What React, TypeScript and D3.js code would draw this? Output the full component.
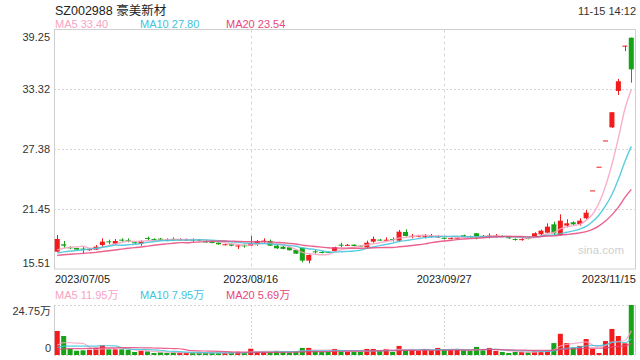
import React from "react";
import * as d3 from "d3";

const title = "SZ002988 豪美新材";
const stamp = "11-15 14:12";

const opens = [
  17.23, 17.96, 17.66, 17.59, 17.53, 17.37, 17.43, 17.89, 18.25, 18.02,
  18.42, 18.36, 18.16, 18.02, 18.59, 18.49, 18.52, 18.42, 18.49, 18.39,
  18.42, 18.42, 18.42, 18.25, 18.19, 18.12, 17.89, 17.96, 17.79, 17.86,
  17.82, 18.06, 18.26, 18.29, 17.82, 17.72, 17.66, 17.40, 17.62, 16.34,
  17.26, 17.20, 17.20, 17.30, 17.92, 17.84, 17.92, 17.82, 17.66, 18.22,
  18.42, 18.36, 18.48, 18.32, 19.18, 18.75, 18.76, 18.75, 18.76, 18.70,
  18.60, 18.52, 18.58, 18.85, 18.74, 19.05, 18.80, 18.78, 18.79, 18.80,
  18.66, 18.49, 18.42, 18.58, 18.78, 18.95, 19.11, 19.94, 18.88, 19.81,
  20.14, 19.97, 20.54, 23.30, 25.65, 28.25, 29.55, 33.16, 37.65, 38.44,
];
const closes = [
  18.49, 17.82, 17.60, 17.43, 17.48, 17.50, 17.72, 18.22, 18.19, 18.29,
  18.36, 18.30, 18.10, 18.29, 18.52, 18.42, 18.46, 18.36, 18.42, 18.46,
  18.44, 18.36, 18.37, 18.19, 18.12, 17.96, 17.96, 17.82, 17.84, 17.80,
  18.06, 18.29, 18.32, 17.82, 17.56, 17.50, 17.37, 17.03, 16.34, 16.90,
  17.20, 17.14, 17.16, 17.66, 17.86, 17.90, 17.79, 17.77, 18.12, 18.49,
  18.37, 18.41, 18.43, 19.21, 18.78, 18.80, 18.80, 18.80, 18.80, 18.74,
  18.55, 18.57, 18.62, 18.72, 18.70, 18.78, 18.76, 18.83, 18.83, 18.76,
  18.60, 18.43, 18.47, 18.53, 19.05, 19.31, 19.71, 19.05, 20.30, 20.04,
  19.94, 20.30, 21.09, 23.30, 25.65, 28.25, 31.05, 34.12, 37.65, 35.30,
];
const highs = [
  18.88, 18.29, 17.76, 17.62, 17.69, 17.56, 17.89, 18.55, 18.42, 18.49,
  18.55, 18.55, 18.22, 18.36, 18.72, 18.55, 18.59, 18.55, 18.65, 18.55,
  18.52, 18.55, 18.49, 18.36, 18.29, 18.19, 18.02, 18.02, 17.96, 17.96,
  18.78, 18.39, 18.55, 18.42, 17.89, 17.79, 17.72, 17.46, 17.62, 16.96,
  17.43, 17.30, 17.26, 17.72, 18.12, 17.99, 17.96, 17.86, 18.32, 18.72,
  18.49, 18.65, 18.65, 19.38, 19.44, 18.98, 18.90, 18.98, 18.98, 18.85,
  18.65, 18.65, 18.75, 18.92, 18.82, 19.08, 18.88, 19.05, 18.98, 18.88,
  18.72, 18.55, 18.58, 18.65, 19.15, 19.41, 20.04, 20.20, 20.93, 20.44,
  20.24, 20.54, 21.36, 23.30, 25.65, 28.25, 31.05, 34.35, 37.65, 38.44,
];
const lows = [
  17.20, 17.57, 17.50, 17.40, 17.03, 17.33, 17.40, 17.72, 17.96, 17.89,
  18.22, 18.16, 18.02, 17.82, 18.39, 18.36, 18.39, 18.26, 18.29, 18.32,
  18.36, 18.19, 18.29, 18.12, 18.06, 17.92, 17.86, 17.76, 17.50, 17.62,
  17.79, 17.82, 18.06, 17.80, 17.50, 17.46, 17.33, 17.00, 16.17, 16.07,
  17.03, 17.06, 17.10, 17.26, 17.66, 17.79, 17.76, 17.72, 17.56, 18.12,
  18.32, 18.32, 18.22, 18.22, 18.72, 18.55, 18.65, 18.55, 18.65, 18.62,
  18.45, 18.45, 18.52, 18.68, 18.62, 18.45, 18.68, 18.55, 18.65, 18.68,
  18.50, 18.32, 18.32, 18.45, 18.72, 18.88, 19.05, 18.88, 18.82, 19.64,
  19.88, 19.81, 20.44, 23.30, 25.65, 28.25, 29.50, 32.76, 37.10, 33.98,
];
// volume in 万
const volumes = [
  11.9, 9.4, 3.0, 2.1, 2.3, 2.6, 3.6, 4.8, 2.8, 2.8,
  2.8, 2.5, 1.5, 2.1, 1.8, 1.0, 1.3, 1.0, 1.3, 1.2,
  1.0, 1.0, 1.0, 1.0, 1.2, 1.0, 1.0, 1.2, 1.6, 1.0,
  3.1, 1.6, 1.6, 1.5, 2.0, 1.6, 1.3, 1.8, 3.5, 3.5,
  2.0, 1.6, 1.5, 3.0, 1.8, 1.5, 1.5, 1.5, 3.0, 3.0,
  2.0, 3.0, 1.5, 4.5, 2.3, 2.5, 2.1, 2.5, 2.5, 3.5,
  2.6, 2.6, 2.6, 2.3, 2.0, 4.0, 2.3, 3.5, 2.0, 1.5,
  1.0, 1.6, 1.6, 1.3, 1.8, 1.8, 2.1, 5.9, 10.5, 5.9,
  3.6, 4.5, 7.9, 3.0, 1.0, 6.9, 12.9, 9.4, 5.8, 24.75,
];
// sessions before 2023/07/05, needed for the moving averages
const prevCloses = [16.4, 16.5, 16.7, 16.6, 16.5, 16.6, 16.7, 16.6, 16.7, 16.7, 16.7, 16.8, 16.9, 16.8, 16.8, 17.0, 17.1, 17.2, 17.2];
const prevVolumes = [1.5, 1.8, 1.6, 2.0, 1.7, 1.5, 1.9, 2.2, 1.6, 1.8, 2.0, 2.4, 2.6, 2.2, 2.8, 3.0, 3.4, 2.8, 3.2];

const maPeriods = [5, 10, 20];
const maColors = ["#f7a3c2", "#3ec4dc", "#e8467c"];
const priceMaLegend = ["33.40", "27.80", "23.54"];
const volMaLegend = ["11.95万", "7.95万", "5.69万"];

const priceTicks = [15.51, 21.45, 27.38, 33.32, 39.25];
const volTicks = [0, 24.75];
const volTickLabels = ["0", "24.75万"];
const dateTickIndex = [0, 30, 60, 89];
const dateTickLabels = ["2023/07/05", "2023/08/16", "2023/09/27", "2023/11/15"];

const RED = "#f21c1c";
const GREEN = "#17a317";
const FONT = "'Liberation Sans', Arial, 'Noto Sans CJK SC', sans-serif";

function movingAvg(prev: number[], vals: number[], n: number) {
  const all = prev.concat(vals);
  const off = prev.length;
  return vals.map((_, i) => {
    const s = all.slice(off + i - n + 1, off + i + 1);
    return d3.mean(s) as number;
  });
}

export default function App() {
  const W = 640, H = 360;
  const L = 54, R = 635;
  const pTop = 29.5, pBot = 269;
  const vTop = 305, vBot = 355;
  const n = closes.length;

  const x = d3.scaleBand<number>().domain(d3.range(n)).range([L, 634.5]);
  const cx = (i: number) => (x(i) as number) + x.bandwidth() / 2;
  const bw = x.bandwidth() * 0.78;

  const y = d3.scaleLinear().domain([priceTicks[0], priceTicks[priceTicks.length - 1]]).range([pBot, pTop]);
  const yv = d3.scaleLinear().domain([volTicks[0], volTicks[1]]).range([vBot, vTop]);

  const priceMAs = maPeriods.map((p) => movingAvg(prevCloses, closes, p));
  const volMAs = maPeriods.map((p) => movingAvg(prevVolumes, volumes, p));

  const linePrice = d3.line<number>().x((_, i) => cx(i)).y((d) => y(d)).curve(d3.curveMonotoneX);
  const lineVol = d3.line<number>().x((_, i) => cx(i)).y((d) => yv(d)).curve(d3.curveMonotoneX);

  const gridColor = "#d6d6d6";
  const borderColor = "#cfcfcf";
  const legendX = [55, 140, 226];

  return (
    <svg width={W} height={H} style={{ position: "absolute", left: 0, top: 0, background: "#fff" }} fontFamily={FONT}>
      <rect x={0} y={0} width={W} height={H} fill="#fff" />
      <text x={55} y={15} fontSize={12.5} fill="#222">{title}</text>
      <text x={636} y={15} fontSize={11} fill="#333" textAnchor="end">{stamp}</text>

      {maPeriods.map((p, k) => (
        <text key={"pl" + k} x={legendX[k]} y={28} fontSize={11} fill={maColors[k]}>{`MA${p} ${priceMaLegend[k]}`}</text>
      ))}

      {/* price grid */}
      {priceTicks.slice(1, -1).map((t, k) => (
        <line key={"hg" + k} x1={L} x2={R} y1={Math.round(y(t)) + 0.5} y2={Math.round(y(t)) + 0.5} stroke={gridColor} strokeDasharray="2,2" />
      ))}
      {dateTickIndex.slice(1, -1).map((i, k) => (
        <g key={"vg" + k}>
          <line x1={Math.round(cx(i)) + 0.5} x2={Math.round(cx(i)) + 0.5} y1={pTop} y2={pBot} stroke={gridColor} strokeDasharray="3,3" />
          <line x1={Math.round(cx(i)) + 0.5} x2={Math.round(cx(i)) + 0.5} y1={vTop} y2={vBot} stroke={gridColor} strokeDasharray="2,2" />
        </g>
      ))}
      <rect x={L + 0.5} y={pTop} width={R - L} height={pBot - pTop} fill="none" stroke={borderColor} />

      {/* price labels */}
      {priceTicks.map((t, k) => {
        const yy = Math.min(Math.max(y(t), pTop + 7), pBot - 6);
        return (
          <text key={"pt" + k} x={50} y={yy + 4} fontSize={11} fill="#333" textAnchor="end">{t.toFixed(2)}</text>
        );
      })}

      <text x={624} y={254} fontSize={11.5} fill="#cfcfcf" textAnchor="end">sina.com</text>

      {/* candles */}
      {closes.map((c, i) => {
        const o = opens[i];
        const up = c >= o;
        const col = up ? RED : GREEN;
        const top = y(Math.max(o, c));
        const bot = y(Math.min(o, c));
        const h = Math.max(1, bot - top);
        return (
          <g key={"c" + i}>
            <line x1={Math.round(cx(i)) + 0.5} x2={Math.round(cx(i)) + 0.5} y1={y(highs[i])} y2={y(lows[i])} stroke={col} strokeWidth={1} />
            <rect x={cx(i) - bw / 2} y={top} width={bw} height={h} fill={col} />
          </g>
        );
      })}

      {priceMAs.map((m, k) => (
        <path key={"pm" + k} d={linePrice(m) as string} fill="none" stroke={maColors[k]} strokeWidth={1.4} opacity={0.85} />
      ))}

      {/* date labels */}
      {dateTickIndex.map((i, k) => {
        const anchor = k === 0 ? "start" : k === dateTickIndex.length - 1 ? "end" : "middle";
        const xx = k === 0 ? L + 1 : k === dateTickIndex.length - 1 ? 636 : cx(i);
        return (
          <text key={"dt" + k} x={xx} y={283} fontSize={11} fill="#222" textAnchor={anchor}>{dateTickLabels[k]}</text>
        );
      })}

      {/* volume panel */}
      {maPeriods.map((p, k) => (
        <text key={"vl" + k} x={legendX[k]} y={299} fontSize={11} fill={maColors[k]}>{`MA${p} ${volMaLegend[k]}`}</text>
      ))}
      <line x1={L} x2={R} y1={vTop + 0.5} y2={vTop + 0.5} stroke={gridColor} strokeDasharray="2,2" />
      <line x1={L} x2={R} y1={vBot + 0.5} y2={vBot + 0.5} stroke={gridColor} strokeDasharray="2,2" />
      <line x1={L + 0.5} x2={L + 0.5} y1={vTop} y2={vBot} stroke={borderColor} />
      <line x1={R + 0.5} x2={R + 0.5} y1={vTop} y2={vBot} stroke={borderColor} />
      {volTicks.map((t, k) => {
        const yy = Math.min(Math.max(yv(t), vTop + 6), vBot - 7);
        return (
          <text key={"vt" + k} x={51} y={yy + 4} fontSize={11} fill="#333" textAnchor="end">{volTickLabels[k]}</text>
        );
      })}
      {volumes.map((v, i) => {
        const col = closes[i] >= opens[i] ? RED : GREEN;
        return <rect key={"v" + i} x={cx(i) - bw / 2} y={yv(v)} width={bw} height={vBot - yv(v)} fill={col} />;
      })}
      {volMAs.map((m, k) => (
        <path key={"vm" + k} d={lineVol(m) as string} fill="none" stroke={maColors[k]} strokeWidth={1.2} opacity={0.85} />
      ))}
    </svg>
  );
}
